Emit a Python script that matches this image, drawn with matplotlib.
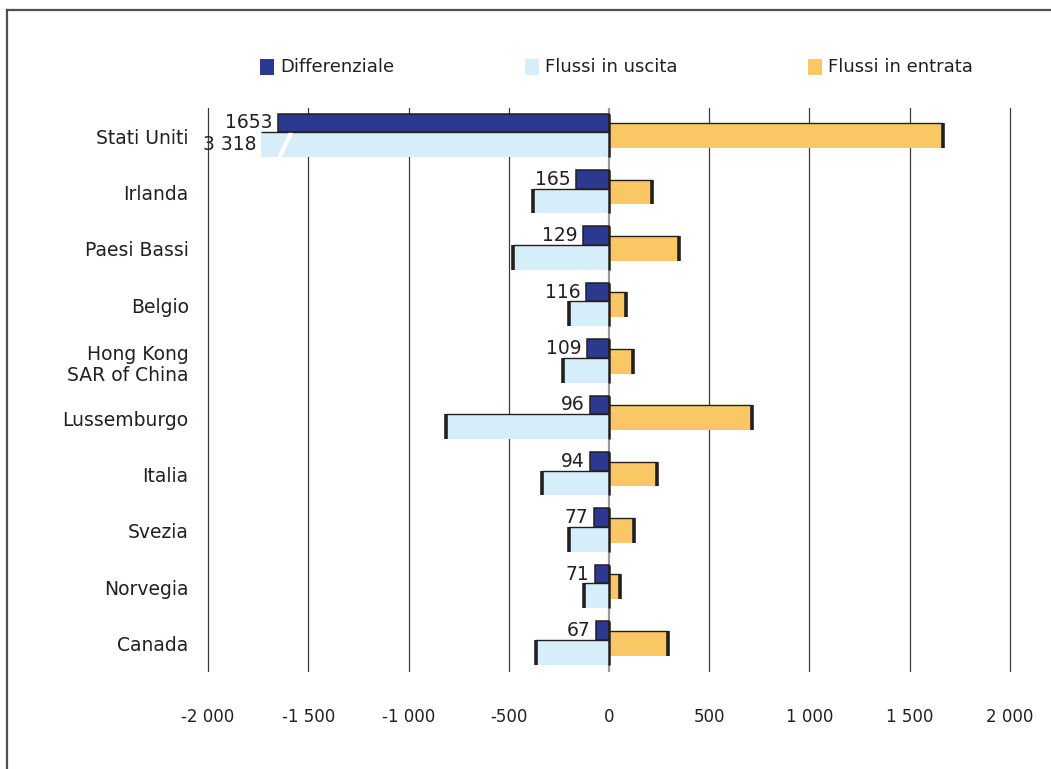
import matplotlib
matplotlib.use("Agg")
import matplotlib.pyplot as plt
from matplotlib.patches import Rectangle
from matplotlib.lines import Line2D

plt.rcParams['font.family'] = ['DejaVu Sans']

# Data (milioni)
paesi = ["Stati Uniti", "Irlanda", "Paesi Bassi", "Belgio", "Hong Kong\nSAR of China",
         "Lussemburgo", "Italia", "Svezia", "Norvegia", "Canada"]
differenziale = [-1653, -165, -129, -116, -109, -96, -94, -77, -71, -67]
flussi_uscita = [-3318, -380, -480, -201, -229, -811, -334, -202, -126, -362]
flussi_entrata = [1665, 215, 351, 85, 120, 715, 240, 125, 55, 295]
diff_labels = ["1653", "165", "129", "116", "109", "96", "94", "77", "71", "67"]
uscita_label_us = "3 318"
xticks = [-2000, -1500, -1000, -500, 0, 500, 1000, 1500, 2000]
xtick_labels = ["-2 000", "-1 500", "-1 000", "-500", "0", "500", "1 000", "1 500", "2 000"]

# Scale break for the outflow bar that exceeds the axis
break_at = -1735

c_diff = "#2B3990"
c_usc = "#D6EEF9"
c_ent = "#F9C864"
c_edge = "#231F20"

W, H = 1051, 769
fig = plt.figure(figsize=(W / 100, H / 100), dpi=100)

# axes placement in pixels
ax_left, ax_right, ax_top, ax_bottom = 204, 1014, 108, 672
ax = fig.add_axes([ax_left / W, 1 - ax_bottom / H, (ax_right - ax_left) / W, (ax_bottom - ax_top) / H])
ax.set_xlim(-2020, 2020)
ax.set_ylim(9.5, -0.5)

for s in ax.spines.values():
    s.set_visible(False)

# vertical gridlines
for x in xticks:
    if x == 0:
        ax.axvline(0, color="#9a9a9a", lw=1.6, zorder=1)
    else:
        ax.axvline(x, color="#3c3c3c", lw=0.9, zorder=1)

ys = list(range(len(paesi)))
h_diff, off_diff = 0.33, -0.235
h_usc = 0.44
off_usc = off_diff + h_diff / 2 + h_usc / 2
h_ent, off_ent = 0.44, -0.01

for i, y in enumerate(ys):
    d = differenziale[i]
    u = max(flussi_uscita[i], break_at)
    e = flussi_entrata[i]
    yd = y + off_diff
    yu = y + off_usc
    ye = y + off_ent

    # entrata
    ax.barh(ye, e, height=h_ent, color=c_ent, edgecolor="none", zorder=2)
    ax.hlines(ye - h_ent / 2, 0, e, color=c_edge, lw=1.0, zorder=3)
    ax.vlines(e, ye - h_ent / 2, ye + h_ent / 2, color=c_edge, lw=2.6, zorder=3)

    # uscita
    ax.barh(yu, u, height=h_usc, color=c_usc, edgecolor="none", zorder=4)
    ax.hlines(yu - h_usc / 2, 0, u, color=c_edge, lw=1.0, zorder=5)
    if flussi_uscita[i] >= break_at:
        ax.vlines(u, yu - h_usc / 2, yu + h_usc / 2, color=c_edge, lw=2.6, zorder=5)

    # differenziale
    ax.barh(yd, d, height=h_diff, color=c_diff, edgecolor=c_edge, lw=1.1, zorder=6)

    # zero edge across the bars
    ax.vlines(0, yd - h_diff / 2, yu + h_usc / 2, color=c_edge, lw=1.8, zorder=7)

    ax.text(d - 26, yd + 0.0, diff_labels[i], ha="right", va="center",
            fontsize=13.5, color="#231F20", zorder=8)

# break mark on the truncated outflow bar
y0 = ys[0] + off_usc
ax.plot([-1650, -1585], [y0 + h_usc / 2 + 0.05, y0 - h_usc / 2], color="white", lw=3,
        solid_capstyle="butt", zorder=5, clip_on=False)
ax.text(break_at - 25, y0, uscita_label_us, ha="right", va="center",
        fontsize=13.5, color="#231F20", zorder=8)

ax.set_yticks(ys)
ax.set_yticklabels(paesi, fontsize=13.5, color="#231F20", linespacing=1.15)
ax.set_xticks(xticks)
ax.set_xticklabels(xtick_labels, fontsize=12, color="#231F20")
ax.tick_params(axis="both", length=0)
ax.tick_params(axis="x", pad=26)
ax.tick_params(axis="y", pad=11)

# legend
leg_items = [("Differenziale", c_diff, 260), ("Flussi in uscita", c_usc, 525), ("Flussi in entrata", c_ent, 808)]
for text, col, px in leg_items:
    fig.patches.append(Rectangle((px / W, 1 - 75 / H), 14 / W, 16 / H, transform=fig.transFigure,
                                 facecolor=col, edgecolor="none"))
    fig.text((px + 20) / W, 1 - 67 / H, text, ha="left", va="center", fontsize=13, color="#231F20")

# outer frame (open towards right and bottom)
fig.add_artist(Line2D([7 / W, 1.0], [1 - 9.5 / H, 1 - 9.5 / H], transform=fig.transFigure,
                      color="#505050", lw=1.6))
fig.add_artist(Line2D([7 / W, 7 / W], [1 - 9.5 / H, 0.0], transform=fig.transFigure,
                      color="#505050", lw=1.6))

fig.savefig("out.png", dpi=100)
